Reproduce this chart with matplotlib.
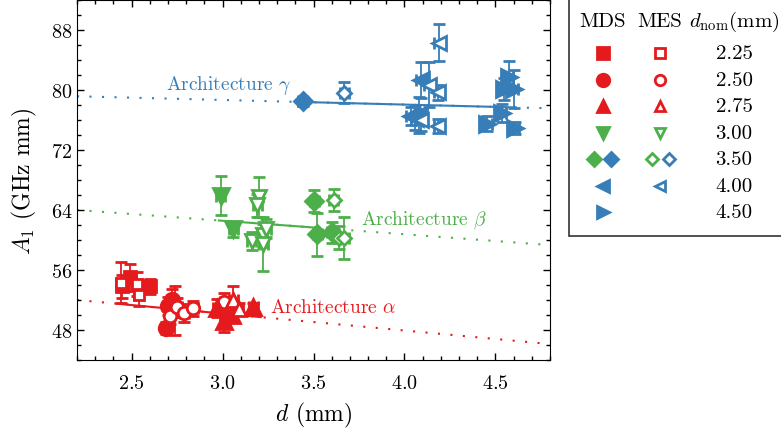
import matplotlib
matplotlib.use('Agg')
import matplotlib.pyplot as plt
import numpy as np
from matplotlib.patches import Rectangle
from matplotlib.ticker import MultipleLocator

plt.rcParams['font.family'] = 'serif'
plt.rcParams['font.serif'] = ['cmr10']
plt.rcParams['mathtext.fontset'] = 'cm'
plt.rcParams['axes.formatter.use_mathtext'] = True

red = '#e41a1c'
green = '#4daf4a'
blue = '#377eb8'

# marker for each nominal diameter
markers = {'2.25': 's', '2.50': 'o', '2.75': '^', '3.00': 'v',
           '3.50': 'D', '4.00': '<', '4.50': '>'}

# ---- data: (architecture colour, method, d_nom) -> values
# Architecture alpha
a_mds_225_x = [2.45, 2.49, 2.60]
a_mds_225_y = [53.8, 55.0, 53.8]
a_mds_225_ye = [1.5, 1.8, 1.0]
a_mes_225_x = [2.44, 2.53, 2.54]
a_mes_225_y = [54.3, 54.1, 52.6]
a_mes_225_ye = [2.7, 1.6, 1.4]
a_mds_250_x = [2.70, 2.72, 2.69, 2.74]
a_mds_250_y = [51.2, 52.0, 48.2, 50.6]
a_mds_250_ye = [1.2, 1.4, 0.8, 3.3]
a_mes_250_x = [2.71, 2.75, 2.79, 2.84, 3.01]
a_mes_250_y = [49.8, 51.0, 50.3, 50.9, 51.7]
a_mes_250_ye = [1.0, 1.3, 1.2, 1.0, 1.2]
a_mds_275_x = [2.97, 3.01, 3.05, 3.17]
a_mds_275_y = [50.9, 49.2, 50.0, 51.0]
a_mds_275_ye = [1.2, 1.5, 1.0, 0.6]
a_mes_275_x = [3.06, 3.09]
a_mes_275_y = [52.0, 50.8]
a_mes_275_ye = [1.8, 0.8]

# Architecture beta
b_mds_300_x = [2.99, 3.06]
b_mds_300_y = [65.9, 61.4]
b_mds_300_ye = [2.6, 1.0]
b_mes_300_x = [3.20, 3.19, 3.16, 3.22, 3.24, 3.225]
b_mes_300_y = [65.7, 64.6, 59.9, 60.6, 61.5, 59.4]
b_mes_300_ye = [2.7, 1.5, 1.2, 1.5, 1.3, 3.6]
b_mds_350_x = [3.505, 3.52, 3.60]
b_mds_350_y = [65.2, 60.75, 61.06]
b_mds_350_ye = [1.5, 2.9, 1.4]
b_mes_350_x = [3.61, 3.64, 3.67]
b_mes_350_y = [65.3, 60.3, 60.3]
b_mes_350_ye = [1.5, 1.5, 2.8]

# Architecture gamma
g_mds_350_x = [3.44]
g_mds_350_y = [78.5]
g_mds_350_ye = [0.6]
g_mes_350_x = [3.67]
g_mes_350_y = [79.6]
g_mes_350_ye = [1.4]
g_mds_400_x = [4.09, 4.035, 4.06, 4.08]
g_mds_400_y = [81.3, 76.5, 76.3, 76.7]
g_mds_400_ye = [2.4, 1.2, 1.6, 2.4]
g_mes_400_x = [4.19, 4.135, 4.186, 4.186, 4.09]
g_mes_400_y = [86.3, 80.7, 79.7, 75.2, 76.0]
g_mes_400_ye = [2.5, 3.0, 1.0, 0.9, 1.5]
g_mds_450_x = [4.574, 4.547, 4.60, 4.534, 4.455, 4.607]
g_mds_450_y = [81.7, 80.1, 80.1, 76.9, 75.5, 74.9]
g_mds_450_ye = [2.1, 1.5, 2.5, 1.2, 1.0, 0.8]

series = [
    (red, 'MDS', '2.25', a_mds_225_x, a_mds_225_y, a_mds_225_ye),
    (red, 'MES', '2.25', a_mes_225_x, a_mes_225_y, a_mes_225_ye),
    (red, 'MDS', '2.50', a_mds_250_x, a_mds_250_y, a_mds_250_ye),
    (red, 'MES', '2.50', a_mes_250_x, a_mes_250_y, a_mes_250_ye),
    (red, 'MDS', '2.75', a_mds_275_x, a_mds_275_y, a_mds_275_ye),
    (red, 'MES', '2.75', a_mes_275_x, a_mes_275_y, a_mes_275_ye),
    (green, 'MDS', '3.00', b_mds_300_x, b_mds_300_y, b_mds_300_ye),
    (green, 'MES', '3.00', b_mes_300_x, b_mes_300_y, b_mes_300_ye),
    (green, 'MDS', '3.50', b_mds_350_x, b_mds_350_y, b_mds_350_ye),
    (green, 'MES', '3.50', b_mes_350_x, b_mes_350_y, b_mes_350_ye),
    (blue, 'MDS', '3.50', g_mds_350_x, g_mds_350_y, g_mds_350_ye),
    (blue, 'MES', '3.50', g_mes_350_x, g_mes_350_y, g_mes_350_ye),
    (blue, 'MDS', '4.00', g_mds_400_x, g_mds_400_y, g_mds_400_ye),
    (blue, 'MES', '4.00', g_mes_400_x, g_mes_400_y, g_mes_400_ye),
    (blue, 'MDS', '4.50', g_mds_450_x, g_mds_450_y, g_mds_450_ye),
]

# linear fits: intercept at d=2.2, slope, solid range, label and its place
fits = [
    (red, 52.0, -2.26, 2.43, 3.21, r'Architecture $\alpha$', 3.26, 51.0),
    (green, 64.0, -1.80, 2.98, 3.52, r'Architecture $\beta$', 3.76, 62.75),
    (blue, 79.15, -0.615, 3.46, 4.61, r'Architecture $\gamma$', 2.69, 80.7),
]

fig = plt.figure(figsize=(7.81, 4.35), dpi=100)
ax = fig.add_axes([77 / 781, 1 - 361 / 435, 473 / 781, 361 / 435 - 0.002])

xx = np.linspace(2.2, 4.8, 100)
for col, b0, m, x0, x1, label, tx, ty in fits:
    ax.plot(xx, b0 + m * (xx - 2.2), ls=(0, (1, 5)), color=col, lw=1.5, zorder=1)
    xs = np.linspace(x0, x1, 10)
    ax.plot(xs, b0 + m * (xs - 2.2), color=col, lw=1.5, zorder=2)
    ax.text(tx, ty, label, color=col, fontsize=14, va='center', ha='left')

msize = {'s': 9, 'o': 10.5, '^': 11.5, 'v': 11.5, 'D': 9, '<': 11.5, '>': 11.5}
for col, meth, dn, x, y, ye in series:
    mk = markers[dn]
    fc = col if meth == 'MDS' else 'white'
    ax.errorbar(x, y, yerr=ye, xerr=0.025, fmt=mk, color=col, mfc=fc, mec=col,
                ms=msize[mk] if meth == 'MDS' else msize[mk] - 1.5, mew=2,
                elinewidth=1.3, capsize=4, capthick=1.3, zorder=3)

ax.set_xlim(2.2, 4.8)
ax.set_ylim(44, 92)
ax.xaxis.set_major_locator(MultipleLocator(0.5))
ax.xaxis.set_minor_locator(MultipleLocator(0.1))
ax.yaxis.set_minor_locator(MultipleLocator(2))
ax.set_yticks([48, 56, 64, 72, 80, 88])
ax.tick_params(which='both', direction='in', top=True, right=True, labelsize=14.5)
ax.tick_params(which='major', length=5, width=1)
ax.tick_params(which='minor', length=3, width=1)
ax.tick_params(axis='x', pad=10)
ax.set_xlabel(r'$d$ (mm)', fontsize=17, labelpad=6)
ax.set_ylabel(r'$A_1$ (GHz mm)', fontsize=17, labelpad=8)

# legend table
lax = fig.add_axes([569 / 781, 0, 212 / 781, 1])
lax.set_xlim(569, 781)
lax.set_ylim(435, 0)
lax.axis('off')
lax.add_patch(Rectangle((569, -5), 240, 242, fill=False, ec='0.2', lw=1.2, clip_on=False))

d_noms = ['2.25', '2.50', '2.75', '3.00', '3.50', '4.00', '4.50']
mds_cols = [[red], [red], [red], [green], [green, blue], [blue], [blue]]
mes_cols = [[red], [red], [red], [green], [green, blue], [blue], []]

lax.text(602.7, 22, 'MDS', fontsize=15, ha='center', va='center')
lax.text(660, 22, 'MES', fontsize=15, ha='center', va='center')
lax.text(734, 22, r'$d_{\rm nom}$(mm)', fontsize=15, ha='center', va='center')
for i, dn in enumerate(d_noms):
    yrow = 54.3 + i * 26.5
    mk = markers[dn]
    for cols, xc, filled in ((mds_cols[i], 602.7, True), (mes_cols[i], 660, False)):
        n = len(cols)
        for j, c in enumerate(cols):
            xm = xc + (j - (n - 1) / 2) * 17
            lax.plot([xm], [yrow], marker=mk, ls='none', color=c,
                     mfc=c if filled else 'white', mec=c, mew=2,
                     ms=(7.5 if mk == 'D' else 9) if filled else (6.5 if mk == 'D' else 7.5))
    lax.text(734, yrow, dn, fontsize=15, ha='center', va='center')

fig.savefig('out.png', dpi=100)
